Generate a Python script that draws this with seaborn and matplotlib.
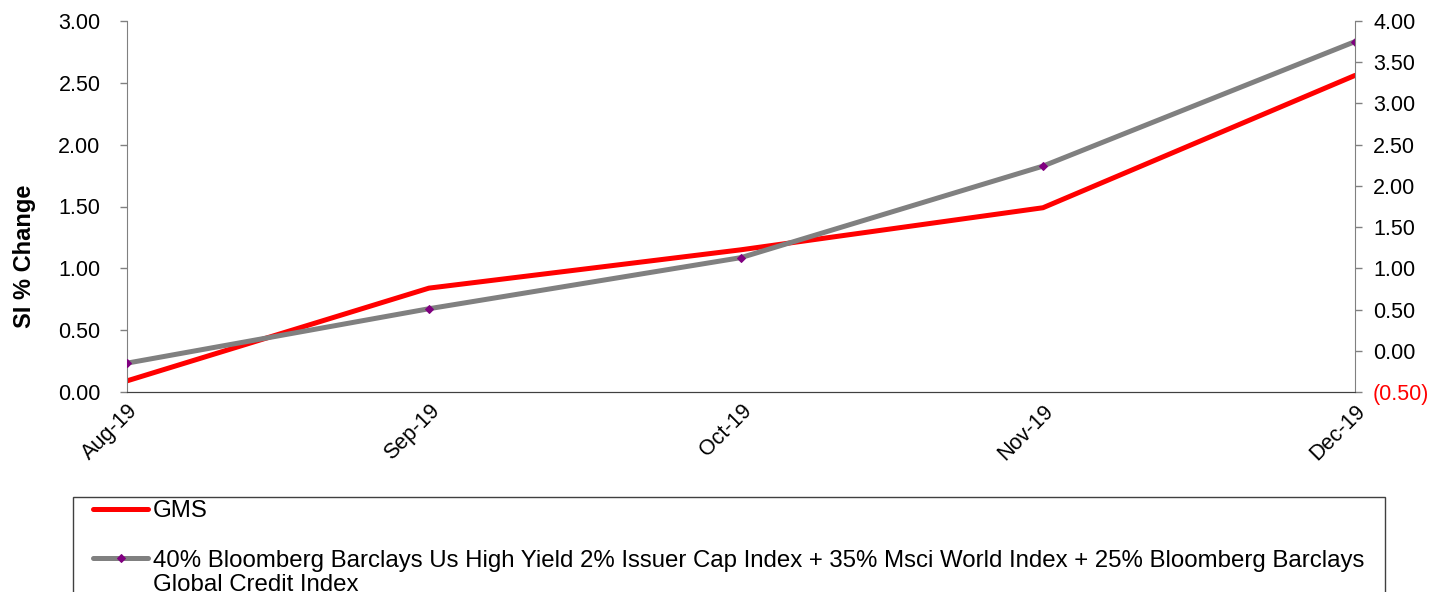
import matplotlib
matplotlib.use("Agg")
import matplotlib.pyplot as plt
from matplotlib.patches import Rectangle
from matplotlib.ticker import FuncFormatter
import seaborn as sns
import pandas as pd

# month-end dates, values
dates = pd.to_datetime(["2019-08-31", "2019-09-30", "2019-10-31", "2019-11-30", "2019-12-31"])
tick_labels = ["Aug-19", "Sep-19", "Oct-19", "Nov-19", "Dec-19"]
gms = [0.09, 0.84, 1.15, 1.49, 2.56]
benchmark = [-0.15, 0.51, 1.13, 2.24, 3.75]

gms_label = "GMS"
bench_label = ("40% Bloomberg Barclays Us High Yield 2% Issuer Cap Index + 35% Msci World Index "
               "+ 25% Bloomberg Barclays")
bench_label_2 = "Global Credit Index"

sns.set_style("white")
plt.rcParams["font.family"] = ["Liberation Sans", "DejaVu Sans"]
plt.rcParams["text.color"] = "black"
plt.rcParams["axes.labelcolor"] = "black"

df = pd.DataFrame({"date": dates, "gms": gms, "bench": benchmark})

fig = plt.figure(figsize=(14.3, 5.92), dpi=100)
ax = fig.add_axes([127 / 1430, 1 - 392 / 592, (1355 - 127) / 1430, (392 - 21) / 592])
ax2 = ax.twinx()

sns.lineplot(data=df, x="date", y="gms", ax=ax, color="#ff0000", linewidth=3.6, label=gms_label, legend=False)
sns.lineplot(data=df, x="date", y="bench", ax=ax2, color="#808080", linewidth=3.6,
             marker="D", markersize=4, markerfacecolor="#800080", markeredgecolor="#800080",
             label=bench_label, legend=False)

ax.set_xlim(dates[0], dates[-1])
ax.set_ylim(0, 3)
ax.set_yticks([0, 0.5, 1, 1.5, 2, 2.5, 3])
ax.yaxis.set_major_formatter(FuncFormatter(lambda v, p: f"{v:.2f}"))
ax2.set_ylim(-0.5, 4)
ax2.set_yticks([-0.5, 0, 0.5, 1, 1.5, 2, 2.5, 3, 3.5, 4])


def paren_fmt(v, p):
    if v < 0:
        return f"({abs(v):.2f})"
    return f"{v:.2f}"


ax2.yaxis.set_major_formatter(FuncFormatter(paren_fmt))

ax.set_xticks(dates)
ax.set_xticklabels(tick_labels, rotation=45, ha="right", rotation_mode="anchor")
ax.set_xlabel("")
ax.set_ylabel("SI % Change", fontsize=17, fontweight="bold")
ax.yaxis.set_label_coords(-0.074, 0.367)
ax2.set_ylabel("")

for a in (ax, ax2):
    a.tick_params(axis="y", labelsize=15.5, length=5, width=1, color="#808080",
                  labelcolor="black", pad=8)
    a.spines["top"].set_visible(False)
    a.spines["left"].set_color("#808080")
    a.spines["right"].set_color("#808080")
    a.spines["bottom"].set_color("#404040")
ax.spines["right"].set_visible(False)
ax2.spines["left"].set_visible(False)
ax.tick_params(axis="x", labelsize=15.5, length=0, pad=6, labelcolor="black")
ax.tick_params(axis="y", left=True, pad=14)
ax2.tick_params(axis="y", right=True)

fig.canvas.draw()
for t in ax2.get_yticklabels():
    if t.get_text().startswith("("):
        t.set_color("#ff0000")

# legend frame runs off the bottom of the figure
fig.patches.append(Rectangle((73 / 1430, -0.2), (1385 - 73) / 1430, 0.2 + 1 - 497 / 592,
                             transform=fig.transFigure, fill=False, edgecolor="#404040",
                             linewidth=1))

handles = ax.get_lines()[:1] + ax2.get_lines()[:1]
leg = fig.legend(handles, [gms_label, bench_label], loc="upper left",
                 bbox_to_anchor=(93 / 1430, 1 - 500 / 592), fontsize=17.3, frameon=False,
                 handlelength=2.3, handletextpad=0.2, labelspacing=1.15,
                 borderaxespad=0, borderpad=0)

fig.canvas.draw()
bb = leg.get_texts()[1].get_window_extent()
inv = fig.transFigure.inverted()
x0, y0 = inv.transform((bb.x0, bb.y0))
fig.text(x0, y0 - 0.004, bench_label_2, fontsize=17.3, va="top", ha="left")

fig.savefig("out.png", dpi=100)
